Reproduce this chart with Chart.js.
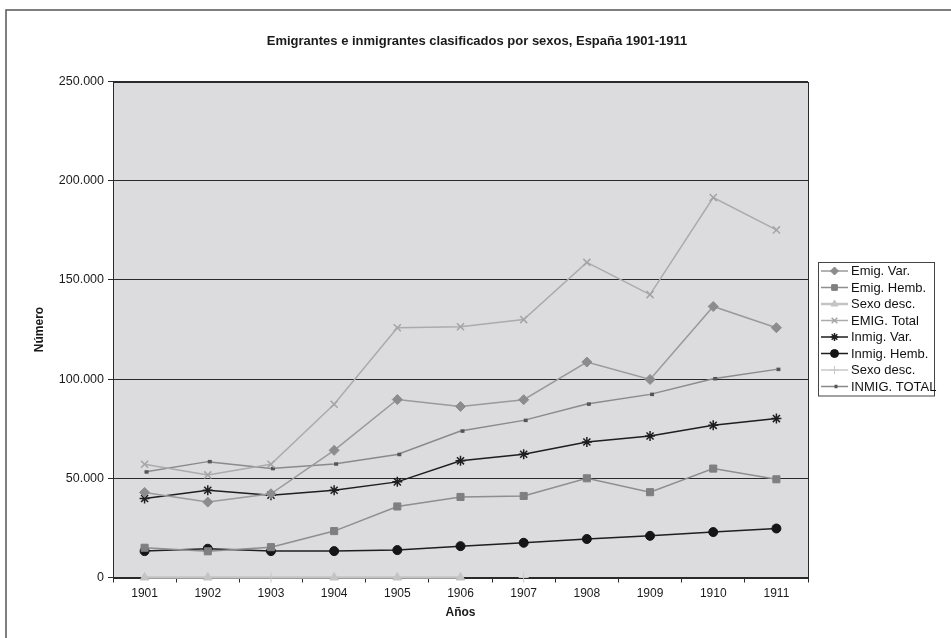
<!DOCTYPE html>
<html>
<head>
<meta charset="utf-8">
<script src="https://cdn.jsdelivr.net/npm/chart.js@4/dist/chart.umd.min.js"></script>
<style>
  html, body { margin: 0; padding: 0; background: #ffffff; }
  #wrap { width: 951px; height: 638px; position: relative; }
</style>
</head>
<body>
<div id="wrap"><canvas id="c" width="951" height="638"></canvas></div>
<script>
const years = ['1901','1902','1903','1904','1905','1906','1907','1908','1909','1910','1911'];
const emigVar    = [42900, 38000, 42200, 64100, 89700, 86200, 89600, 108600, 99800, 136600, 125900];
const emigHemb   = [15000, 13200, 15300, 23400, 35800, 40600, 41100, 50000, 43000, 54900, 49500];
const emigSexo   = [0, 0, 0, 0, 0, 0, null, null, null, null, null];
const emigTotal  = [57100, 51700, 57100, 87300, 125900, 126400, 130000, 158800, 142600, 191500, 175200];
const inmigVar   = [39800, 44000, 41500, 44000, 48200, 58800, 62100, 68300, 71300, 76700, 80100];
const inmigHemb  = [13300, 14500, 13300, 13300, 13800, 15800, 17500, 19400, 21000, 22900, 24700];
const inmigSexo  = [null, null, 0, null, null, null, 0, null, null, null, null];
const inmigTotal = [53200, 58400, 54900, 57200, 62000, 73800, 79200, 87400, 92300, 100200, 104900];
const yTicks = [0, 50000, 100000, 150000, 200000, 250000];

const chartTitle = 'Emigrantes e inmigrantes clasificados por sexos, España 1901-1911';
const FONT = '"Liberation Sans", Arial, sans-serif';

function fmt(v) { return String(v).replace(/\B(?=(\d{3})+(?!\d))/g, '.'); }

function ds(label, data, o) {
  return Object.assign({
    label, data,
    borderWidth: 1.5,
    pointBorderWidth: 1,
    tension: 0,
    spanGaps: false,
    clip: false
  }, o);
}

const datasets = [
  ds('Emig. Var.', emigVar, {borderColor:'#9a9a9a', backgroundColor:'#8c8c8c', pointBorderColor:'#8c8c8c', pointStyle:'rectRot', pointRadius:5}),
  ds('Emig. Hemb.', emigHemb, {borderColor:'#8e8e8e', backgroundColor:'#7f7f7f', pointBorderColor:'#7f7f7f', pointStyle:'rect', pointRadius:5}),
  ds('Sexo desc.', emigSexo, {borderColor:'#c4c4c6', backgroundColor:'#c4c4c6', pointBorderColor:'#c4c4c6', pointStyle:'triangle', pointRadius:[5,5,0,5,5,5,0,0,0,0,0], borderWidth:2.5}),
  ds('EMIG. Total', emigTotal, {borderColor:'#ababab', backgroundColor:'#ababab', pointBorderColor:'#a4a4a4', pointStyle:'crossRot', pointRadius:5, pointBorderWidth:1.5}),
  ds('Inmig. Var.', inmigVar, {borderColor:'#1e1e1e', backgroundColor:'#1e1e1e', pointBorderColor:'#1e1e1e', pointStyle:'star', pointRadius:5, pointBorderWidth:1.5}),
  ds('Inmig. Hemb.', inmigHemb, {borderColor:'#1e1e1e', backgroundColor:'#151515', pointBorderColor:'#151515', pointStyle:'circle', pointRadius:4.5}),
  ds('Sexo desc.', inmigSexo, {borderColor:'#c8c8c8', backgroundColor:'#c8c8c8', pointBorderColor:'#c8c8c8', pointStyle:'cross', pointRadius:5}),
  ds('INMIG. TOTAL', inmigTotal, {borderColor:'#8a8a8a', backgroundColor:'#555555', pointBorderColor:'#555555', pointStyle:'dash', pointRadius:4, pointBorderWidth:3.5})
];

const framePlugin = {
  id: 'frame',
  beforeDraw(chart) {
    const {ctx, chartArea: a} = chart;
    ctx.save();
    ctx.fillStyle = '#ffffff';
    ctx.fillRect(0, 0, chart.width, chart.height);
    ctx.strokeStyle = '#555555';
    ctx.lineWidth = 1.5;
    ctx.beginPath();
    ctx.moveTo(6, chart.height);
    ctx.lineTo(6, 10);
    ctx.lineTo(chart.width, 10);
    ctx.stroke();
    ctx.fillStyle = '#dcdcde';
    ctx.fillRect(a.left, a.top, a.right - a.left, a.bottom - a.top);
    ctx.fillStyle = '#1a1a1a';
    ctx.font = 'bold 13px ' + FONT;
    ctx.textAlign = 'center';
    ctx.textBaseline = 'middle';
    ctx.fillText(chartTitle, 477, 41);
    ctx.restore();
  },
  beforeDatasetsDraw(chart) {
    const {ctx, chartArea: a} = chart;
    ctx.save();
    ctx.strokeStyle = '#2a2a2a';
    ctx.lineWidth = 1;
    ctx.strokeRect(Math.round(a.left) + 0.5, Math.round(a.top) + 0.5, Math.round(a.right - a.left), Math.round(a.bottom - a.top));
    ctx.restore();
  }
};

const legendPlugin = {
  id: 'boxLegend',
  afterDraw(chart) {
    const {ctx} = chart;
    const x0 = 818, y0 = 262, w = 116, rowH = 16.5, firstY = 271;
    const n = chart.data.datasets.length;
    const h = firstY - y0 + (n - 1) * rowH + 9;
    ctx.save();
    ctx.fillStyle = '#ffffff';
    ctx.fillRect(x0, y0, w, h);
    ctx.strokeStyle = '#444444';
    ctx.lineWidth = 1;
    ctx.strokeRect(x0 + 0.5, y0 + 0.5, w, h);
    chart.data.datasets.forEach((d, i) => {
      const y = firstY + i * rowH;
      ctx.strokeStyle = d.borderColor;
      ctx.lineWidth = d.borderWidth;
      ctx.beginPath();
      ctx.moveTo(821, y);
      ctx.lineTo(848, y);
      ctx.stroke();
      const r = Math.min(Array.isArray(d.pointRadius) ? 4 : d.pointRadius, 4);
      ctx.fillStyle = d.backgroundColor;
      ctx.strokeStyle = d.pointBorderColor;
      ctx.lineWidth = d.pointBorderWidth;
      Chart.helpers.drawPoint(ctx, {pointStyle: d.pointStyle, radius: d.pointStyle === 'dash' ? 3 : r, rotation: 0, borderWidth: d.pointBorderWidth}, 834.5, y);
      ctx.fillStyle = '#111111';
      ctx.font = '13px ' + FONT;
      ctx.textAlign = 'left';
      ctx.textBaseline = 'middle';
      ctx.fillText(d.label, 851, y + 0.5);
    });
    ctx.restore();
  }
};

new Chart(document.getElementById('c'), {
  type: 'line',
  data: { labels: years, datasets },
  options: {
    responsive: false,
    animation: false,
    devicePixelRatio: 1,
    layout: { padding: { left: 28, right: 143, top: 81.5, bottom: 14 } },
    plugins: {
      legend: { display: false },
      title: { display: false },
      tooltip: { enabled: false }
    },
    scales: {
      x: {
        type: 'category',
        offset: true,
        grid: { offset: true, drawOnChartArea: false, color: '#2a2a2a', tickLength: 5 },
        border: { color: '#2a2a2a', width: 1 },
        ticks: { color: '#1a1a1a', font: { family: FONT, size: 12 }, padding: 4, maxRotation: 0, autoSkip: false },
        title: { display: true, text: 'Años', color: '#1a1a1a', font: { family: FONT, size: 12, weight: 'bold' }, padding: { top: 4, bottom: 4 } },
        afterFit(s) { s.height = 638 - 14 - 577.5; }
      },
      y: {
        min: 0, max: 250000,
        afterBuildTicks(s) { s.ticks = yTicks.map(v => ({ value: v })); },
        grid: { color: '#2a2a2a', tickLength: 5, lineWidth: 1 },
        border: { color: '#2a2a2a', width: 1 },
        ticks: { color: '#1a1a1a', font: { family: FONT, size: 12.5 }, padding: 4, callback: v => fmt(v) },
        title: { display: true, text: 'Número', color: '#1a1a1a', font: { family: FONT, size: 12, weight: 'bold' }, padding: { top: 4, bottom: 4 } },
        afterFit(s) { s.width = 113 - 28; }
      }
    }
  },
  plugins: [framePlugin, legendPlugin]
});
</script>
</body>
</html>
